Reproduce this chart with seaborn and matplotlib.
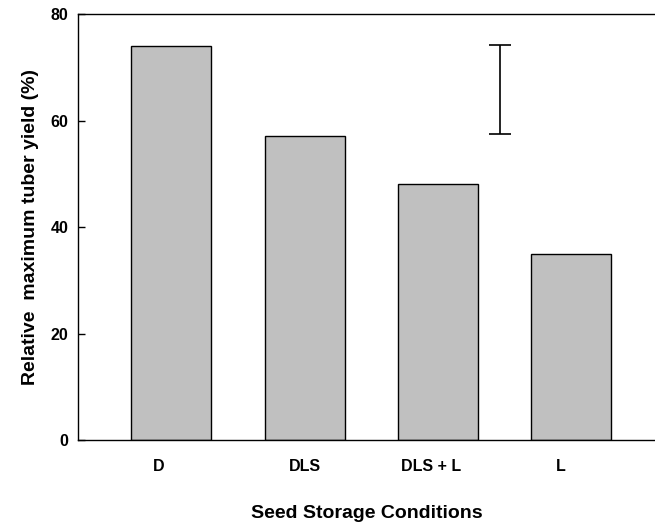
import pandas as pd
import matplotlib
matplotlib.use("Agg")
import matplotlib.pyplot as plt
import matplotlib.transforms as mtransforms
import seaborn as sns

# values
conditions = ['D', 'DLS', 'DLS + L', 'L']
rel_yield = [74, 57, 48, 35]

# LSD bar drawn between DLS + L and L
lsd_pos = 2.465
lsd_low = 57.4
lsd_high = 74.2

# the category names sit a little left of the bar centres in the original
label_shift_px = [-13, 0, -7, -10]


def plot_tuber_yield():
    sns.set_style("white")
    plt.rcParams['font.family'] = ['Liberation Sans', 'DejaVu Sans']
    plt.rcParams['font.weight'] = 'bold'
    plt.rcParams['text.color'] = 'black'
    plt.rcParams['axes.labelcolor'] = 'black'
    plt.rcParams['xtick.color'] = 'black'
    plt.rcParams['ytick.color'] = 'black'

    df = pd.DataFrame({'Condition': conditions, 'Yield': rel_yield})

    fig = plt.figure(figsize=(6.55, 5.24), dpi=100)
    ax = fig.add_axes([78 / 655, 84 / 524, 1 - 78 / 655, (440 - 14) / 524])

    sns.barplot(x='Condition', y='Yield', data=df, color='#c0c0c0',
                saturation=1, width=0.6, edgecolor='black', linewidth=1,
                ax=ax)

    mid = (lsd_low + lsd_high) / 2
    half = (lsd_high - lsd_low) / 2
    ax.errorbar([lsd_pos], [mid], yerr=[half], fmt='none', ecolor='black',
                elinewidth=1.2, capsize=8, capthick=1.2)

    ax.set_xlim(-0.70, 3.63)
    ax.set_ylim(0, 80)
    ax.set_yticks([0, 20, 40, 60, 80])
    ax.tick_params(axis='y', direction='in', length=5, width=1, left=True,
                   labelsize=11.5, pad=7)
    ax.tick_params(axis='x', length=0, labelsize=11.5, pad=14)

    for lbl, dx in zip(ax.get_xticklabels(), label_shift_px):
        offset = mtransforms.ScaledTranslation(dx / 100, 0, fig.dpi_scale_trans)
        lbl.set_transform(lbl.get_transform() + offset)

    for side in ['left', 'top', 'bottom']:
        ax.spines[side].set_visible(True)
        ax.spines[side].set_color('black')
        ax.spines[side].set_linewidth(1)
    ax.spines['right'].set_visible(False)

    ax.set_xlabel('Seed Storage Conditions', fontsize=14, fontweight='bold',
                  labelpad=22)
    ax.set_ylabel('Relative  maximum tuber yield (%)', fontsize=14,
                  fontweight='bold', labelpad=8)

    fig.savefig('out.png', dpi=100)
    plt.close(fig)


if __name__ == "__main__":
    plot_tuber_yield()
